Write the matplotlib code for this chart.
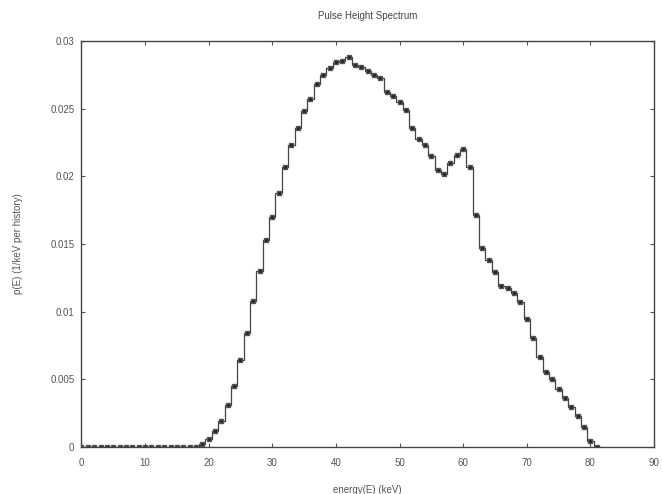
import matplotlib
matplotlib.use("Agg")
import matplotlib.pyplot as plt
import numpy as np

# energia (keV) e p(E)
energy = list(range(0, 82))
p_low = [0.0] * 19  # 0..18 keV
p_rest = [0.0002, 0.00057, 0.0012, 0.0019, 0.0031, 0.0045, 0.0064, 0.0084,
          0.0108, 0.0130, 0.0153, 0.0170, 0.0188, 0.0207, 0.0223, 0.0236,
          0.0248, 0.0257, 0.0268, 0.0275, 0.0280, 0.02843, 0.02855, 0.02885,
          0.02823, 0.0281, 0.0278, 0.0275, 0.02725, 0.02626, 0.02594, 0.02552,
          0.0249, 0.02355, 0.02274, 0.02232, 0.0215, 0.02047, 0.02017, 0.02096,
          0.02158, 0.0220, 0.02067, 0.01714, 0.01468, 0.01382, 0.01295, 0.01188,
          0.01173, 0.01136, 0.01074, 0.00944, 0.00803, 0.00663, 0.00557, 0.0050,
          0.00426, 0.0036, 0.00298, 0.00229, 0.0015, 0.00047, 0.00002]
pE = p_low + p_rest

x_ticks = list(range(0, 91, 10))
y_ticks = [0, 0.005, 0.01, 0.015, 0.02, 0.025, 0.03]
y_labels = ["0", "0.005", "0.01", "0.015", "0.02", "0.025", "0.03"]

plt.rcParams['font.family'] = ['Liberation Sans', 'DejaVu Sans']

fig = plt.figure(figsize=(6.62, 4.94), dpi=100)
ax = fig.add_axes([0.123, 0.095, 0.865, 0.822])

ax.plot(energy, pE, drawstyle='steps-mid', color='#444444', lw=0.9)
ax.plot(energy, pE, ls='none', marker='s', ms=3.0, color='#222222',
        mec='#555555')

ax.set_xlim(0, 90)
ax.set_ylim(0, 0.03)
ax.set_xticks(x_ticks)
ax.set_yticks(y_ticks)
ax.set_yticklabels(y_labels)
ax.tick_params(direction='in', top=True, right=True, length=3,
               labelsize=7, colors='#555555', labelcolor='#555555')
ax.tick_params(axis='x', pad=8)
ax.tick_params(axis='y', pad=5)
for s in ax.spines.values():
    s.set_color('#444444')
    s.set_linewidth(1.0)

ax.set_title("Pulse Height Spectrum", fontsize=7, color='#444444', pad=16)
ax.set_xlabel("energy(E) (keV)", fontsize=7, color='#555555', labelpad=12)
ax.set_ylabel("p(E) (1/keV per history)", fontsize=7, color='#555555', labelpad=20)

fig.savefig("out.png", dpi=100)
